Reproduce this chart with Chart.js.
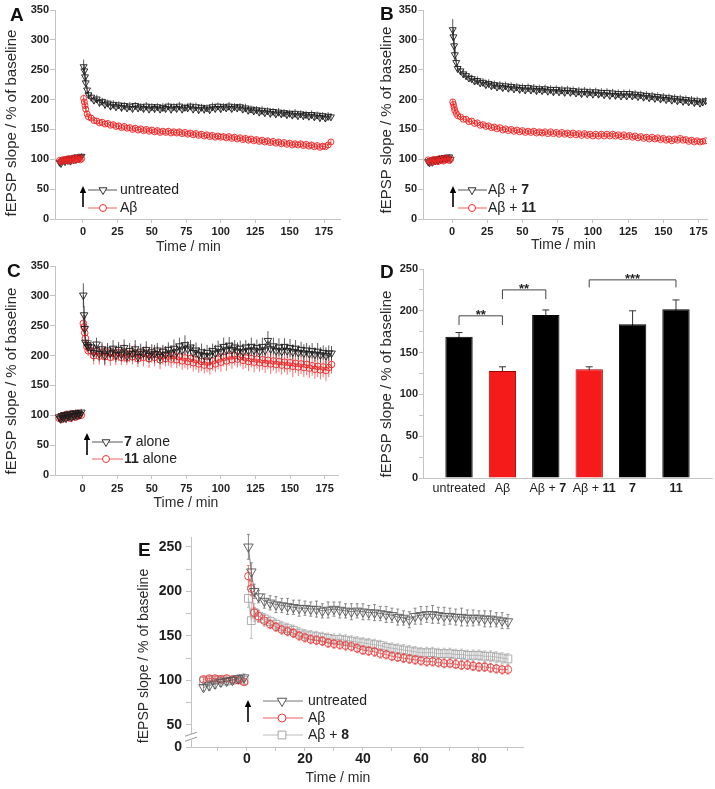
<!DOCTYPE html>
<html><head><meta charset="utf-8">
<script src="https://cdn.jsdelivr.net/npm/chart.js@4.4.1/dist/chart.umd.min.js"></script>
<style>
html,body{margin:0;padding:0;background:#fff;}
#wrap{position:relative;width:715px;height:789px;overflow:hidden;background:#fff;}
canvas{position:absolute;}
</style></head><body>
<div id="wrap">
<canvas id="cA" width="355" height="262" style="left:0px;top:0px"></canvas>
<canvas id="cB" width="360" height="262" style="left:355px;top:0px"></canvas>
<canvas id="cC" width="355" height="260" style="left:0px;top:255px"></canvas>
<canvas id="cD" width="360" height="245" style="left:355px;top:255px"></canvas>
<canvas id="cE" width="405" height="269" style="left:125px;top:520px"></canvas>
</div>
<script>
// ---------------- DATA ----------------
const timeAC = [-17,-16,-15,-14,-13,-12,-11,-10,-9,-8,-7,-6,-5,-4,-3,-2,-1,
 0.5,1,1.5,2,3,4,
 6,8,10,12,14,16,18,20,22,24,
 26,28,30,32,34,36,38,40,42,44,
 46,48,50,52,54,56,58,60,62,64,
 66,68,70,72,74,76,78,80,82,84,
 86,88,90,92,94,96,98,100,102,104,
 106,108,110,112,114,116,118,120,122,124,
 126,128,130,132,134,136,138,140,142,144,
 146,148,150,152,154,156,158,160,162,164,
 166,168,170,172,174,176,178,180];
const xTicksAC = [0,25,50,75,100,125,150,175];
const yTicksAC = [0,50,100,150,200,250,300,350];

// Panel A
const untreatedA = [95,93,97,99,96,100,98,101,97,102,99,103,100,104,101,103,105,
 255,248,238,228,216,208,
 204,199,201,195,197,192,194,189,192,188,
 191,187,190,186,189,185,190,186,188,185,
 189,184,188,185,188,184,187,185,189,184,
 188,185,189,184,187,186,189,184,188,183,
 187,184,186,183,188,185,189,185,188,186,
 189,185,188,186,188,184,186,182,184,181,
 183,179,182,178,181,177,180,176,179,176,
 178,175,177,174,177,173,176,173,175,172,
 175,171,174,170,173,169,172,171];
const untreatedAErr = [5,5,5,5,5,5,5,5,5,5,5,5,5,5,5,5,5,
 12,10,9,8,7,6,
 7,6,7,6,6,7,6,6,7,6,
 6,7,6,6,7,6,6,7,6,6,
 7,6,6,7,6,6,7,6,6,7,
 6,6,7,6,6,7,6,6,7,6,
 6,7,6,6,7,6,6,7,6,6,
 7,6,6,7,6,6,7,6,6,7,
 6,6,7,6,6,7,6,6,7,6,
 6,7,6,6,7,6,6,7,6,6,
 7,6,6,7,6,6,7,6];
const abetaA = [98,96,99,97,100,98,101,97,100,99,102,98,101,100,103,99,101,
 202,196,190,184,176,171,
 169,165,164,161,162,159,160,157,158,155,
 156,153,155,152,153,150,152,149,151,148,
 150,147,149,146,148,145,147,145,147,144,
 146,144,146,143,145,142,144,141,143,140,
 142,139,141,138,140,137,139,137,138,136,
 138,135,137,134,136,133,135,132,134,131,
 133,130,132,129,131,128,130,127,129,126,
 128,125,127,124,126,124,126,123,125,122,
 124,121,123,120,122,121,124,129];
const abetaAErr = [4,4,4,4,4,4,4,4,4,4,4,4,4,4,4,4,4,
 6,5,5,5,5,4,
 5,4,5,4,5,4,5,4,5,4,
 5,4,5,4,5,4,5,4,5,4,
 5,4,5,4,5,4,5,4,5,4,
 5,4,5,4,5,4,5,4,5,4,
 5,4,5,4,5,4,5,4,5,4,
 5,4,5,4,5,4,5,4,5,4,
 5,4,5,4,5,4,5,4,5,4,
 5,4,5,4,5,4,5,4,5,4,
 5,4,5,4,5,4,5,4];

// Panel B
const abeta7B = [96,94,98,95,99,97,100,98,101,99,102,100,103,101,102,104,100,
 317,305,290,275,262,252,
 248,243,240,236,235,231,232,228,229,225,
 227,223,225,221,224,220,223,219,222,218,
 221,217,220,216,220,216,219,215,218,215,
 218,214,217,213,217,213,216,212,216,212,
 215,211,214,210,214,210,213,209,213,209,
 212,208,212,207,211,207,210,206,210,206,
 210,206,209,205,208,204,207,203,206,202,
 205,201,204,200,203,199,202,198,201,197,
 200,196,199,195,198,194,196,198];
const abeta7BErr = [5,5,5,5,5,5,5,5,5,5,5,5,5,5,5,5,5,
 18,15,12,10,8,7,
 7,7,7,6,7,6,7,6,7,6,
 7,6,7,6,7,6,7,6,7,6,
 7,6,7,6,7,6,7,6,7,6,
 7,6,7,6,7,6,7,6,7,6,
 7,6,7,6,7,6,7,6,7,6,
 7,6,7,6,7,6,7,6,7,6,
 7,6,7,6,7,6,7,6,7,6,
 7,6,7,6,7,6,7,6,7,6,
 7,6,7,6,7,6,7,6];
const abeta11B = [99,96,98,95,100,97,99,96,101,98,100,97,102,99,101,98,100,
 196,192,187,182,177,173,
 171,167,167,163,164,160,161,157,158,155,
 156,153,154,151,153,149,151,148,150,147,
 149,146,148,145,147,145,147,144,146,144,
 146,143,146,143,145,142,145,142,144,141,
 144,141,143,140,143,140,142,139,142,139,
 142,139,142,139,142,139,141,138,141,138,
 140,137,139,136,138,135,137,134,137,134,
 136,133,135,132,134,131,134,132,135,132,
 133,130,132,129,131,129,130,131];
const abeta11BErr = [3,3,3,3,3,3,3,3,3,3,3,3,3,3,3,3,3,
 5,4,4,4,4,4,
 4,3,4,3,4,3,4,3,4,3,
 4,3,4,3,4,3,4,3,4,3,
 4,3,4,3,4,3,4,3,4,3,
 4,3,4,3,4,3,4,3,4,3,
 4,3,4,3,4,3,4,3,4,3,
 4,3,4,3,4,3,4,3,4,3,
 4,3,4,3,4,3,4,3,4,3,
 4,3,4,3,4,3,4,3,4,3,
 4,3,4,3,4,3,4,3];

// Panel C
const alone7C = [97,94,99,96,101,95,100,98,103,97,102,99,104,100,103,101,105,
 301,268,245,222,218,215,
 214,205,219,203,211,200,209,204,212,201,
 210,202,213,199,208,203,211,198,207,204,
 210,200,206,203,209,198,207,202,210,204,
 212,206,216,209,218,211,214,205,209,202,
 206,200,205,199,208,204,212,206,215,209,
 217,210,214,207,212,206,214,208,215,209,
 213,207,215,209,225,211,216,208,214,207,
 215,208,213,206,212,205,210,204,209,203,
 208,202,207,201,205,200,204,204];
const alone7CErr = [6,7,6,7,6,7,6,7,6,7,6,7,6,7,6,7,6,
 20,15,10,8,8,8,
 12,14,11,13,12,15,12,11,14,12,
 13,12,14,11,13,12,15,12,13,11,
 14,12,13,15,12,13,11,14,12,13,
 15,13,14,12,16,13,12,14,13,12,
 14,12,13,15,12,14,13,12,15,13,
 14,13,12,15,13,14,12,13,15,12,
 14,13,15,12,16,13,14,12,15,13,
 14,12,15,13,14,12,13,15,12,14,
 13,12,14,13,12,14,13,12];
const alone11C = [95,98,93,99,96,101,97,100,95,102,98,101,97,103,99,102,100,
 254,248,238,229,215,208,
 208,200,207,199,206,198,205,197,204,199,
 205,197,204,196,203,198,204,195,202,197,
 203,195,201,197,202,193,200,195,199,194,
 200,193,198,191,196,190,195,188,193,186,
 190,184,189,183,191,186,194,189,197,191,
 199,193,200,194,198,192,196,190,195,189,
 194,188,193,187,192,186,191,185,190,184,
 189,183,188,182,187,181,186,180,185,179,
 183,177,182,176,181,175,180,185];
const alone11CErr = [6,7,6,7,6,7,6,7,6,7,6,7,6,7,6,7,6,
 15,12,10,9,9,9,
 13,15,12,14,13,15,12,14,13,15,
 14,13,15,12,14,13,15,14,13,15,
 14,16,13,15,14,16,15,13,16,14,
 15,14,16,15,17,14,16,15,17,15,
 16,14,17,15,16,14,17,16,15,17,
 16,15,17,14,16,15,17,16,15,17,
 16,15,17,16,15,17,16,15,17,16,
 17,15,16,18,16,15,17,16,18,16,
 17,16,18,16,17,18,16,15];

// Panel D
const dCategories = ['untreated','Aβ','Aβ + [7]','Aβ + [11]','[7]','[11]'];
const dValues = [169,128,195,130,184,202];
const dErrors = [5,5,6,3,16,11];
const dIsAbeta = [false,true,false,true,false,false];
const dYTicks = [0,25,50,75,100,125,150,175,200,225,250];
const dBrackets = [
  {from:0,to:1,top:194,leg:183,text:'**'},
  {from:1,to:2,top:225,leg:214,text:'**'},
  {from:3,to:5,top:237,leg:228,text:'***'}
];

// Panel E
const timeE = [-15,-13,-11,-9,-7,-5,-3,-1,
 0.5,1.5,2.5,
 4,6,8,10,12,14,16,18,20,22,
 24,26,28,30,32,34,36,38,40,42,
 44,46,48,50,52,54,56,58,60,62,
 64,66,68,70,72,74,76,78,80,82,
 84,86,88,90];
const xTicksE = [-10,0,10,20,30,40,50,60,70,80,90];
const xLabelsE = {0:'0',20:'20',40:'40',60:'60',80:'80'};
const yTicksE = [25,50,75,100,125,150,175,200,225,250];
const yLabelsE = {25:'0',50:'50',100:'100',150:'150',200:'200',250:'250'};
const untreatedE = [92,94,96,98,99,100,102,103,
 250,222,200,
 194,189,187,185,184,183,182,181,181,180,
 180,178,179,180,179,178,177,178,177,176,
 176,175,174,173,171,170,168,172,173,174,
 174,173,172,172,171,171,170,170,170,169,
 169,168,167,166];
const untreatedEErr = [4,5,5,5,4,4,4,4,
 14,10,8,
 7,8,8,9,8,9,8,9,8,8,
 9,8,9,8,9,8,9,8,9,8,
 9,8,9,8,9,8,9,9,10,9,
 10,9,10,9,9,10,9,9,8,9,
 9,8,9,8];
const abetaE = [101,102,102,101,102,101,100,98,
 217,203,176,
 172,167,163,160,157,155,153,150,148,146,
 145,144,142,141,140,139,138,136,134,133,
 132,130,129,127,126,125,124,123,122,121,
 121,120,119,119,118,117,117,116,115,115,
 114,113,112,112];
const abetaEErr = [3,3,3,3,3,3,3,3,
 12,8,6,
 6,6,5,5,5,5,5,5,5,5,
 5,5,5,5,5,5,5,5,5,5,
 5,5,5,5,5,5,5,5,5,5,
 5,5,5,5,5,5,5,5,5,5,
 5,5,5,5];
const abeta8E = [99,100,100,101,99,100,101,100,
 192,167,176,
 172,169,166,163,160,158,156,153,151,150,
 149,148,147,146,146,145,144,143,142,141,
 140,139,137,136,135,134,133,132,131,131,
 131,130,130,130,129,129,128,128,128,127,
 127,126,125,124];
const abeta8EErr = [4,4,4,4,4,4,4,4,
 10,20,10,
 7,6,6,6,6,6,6,6,6,6,
 6,6,6,6,6,6,6,6,6,6,
 6,6,6,6,6,6,6,6,6,6,
 6,6,6,6,6,6,6,6,6,6,
 6,6,6,6];

// ---------------- RENDERING ----------------
const FONT = '"Liberation Sans", Arial, Helvetica, sans-serif';
const AX = '#c4c4c4';
Chart.defaults.font.family = FONT;

function rich(ctx, str, x, y, size, color, align){
  const segs = [];
  str.split(/(\[[^\]]*\])/).forEach(s=>{ if(!s) return; if(s[0]==='[') segs.push({t:s.slice(1,-1),b:true}); else segs.push({t:s,b:false}); });
  let w = 0;
  segs.forEach(s=>{ ctx.font=(s.b?'bold ':'')+size+'px '+FONT; s.w=ctx.measureText(s.t).width; w+=s.w; });
  let cx = align==='center' ? x-w/2 : x;
  ctx.fillStyle=color; ctx.textBaseline='middle'; ctx.textAlign='left';
  segs.forEach(s=>{ ctx.font=(s.b?'bold ':'')+size+'px '+FONT; ctx.fillText(s.t,cx,y); cx+=s.w; });
}

function marker(ctx, mk, x, y, r, color){
  ctx.save(); ctx.strokeStyle=color; ctx.fillStyle='#fff'; ctx.lineWidth=1; ctx.beginPath();
  if(mk==='tri'){ ctx.moveTo(x-r*0.87,y-r*0.5); ctx.lineTo(x+r*0.87,y-r*0.5); ctx.lineTo(x,y+r); ctx.closePath(); }
  else if(mk==='circle'){ ctx.arc(x,y,r,0,Math.PI*2); }
  else { const h=r*0.707; ctx.rect(x-h,y-h,2*h,2*h); }
  ctx.fill(); ctx.stroke(); ctx.restore();
}

const errBars = { id:'errBars', beforeDatasetDraw(chart, args){
  const ds = chart.data.datasets[args.index]; if(!ds.err) return;
  const ctx=chart.ctx, xs=chart.scales.x, ys=chart.scales.y, ca=chart.chartArea;
  ctx.save(); ctx.beginPath(); ctx.rect(ca.left, ca.top-30, ca.right-ca.left, ca.bottom-ca.top+30); ctx.clip();
  ctx.strokeStyle=ds.errColor; ctx.lineWidth=ds.errW||0.8; ctx.beginPath();
  ds.data.forEach((p,i)=>{ const e=ds.err[i]; if(!e) return;
    const x=xs.getPixelForValue(p.x), y1=ys.getPixelForValue(p.y+e), y2=ys.getPixelForValue(p.y-e);
    ctx.moveTo(x,y1); ctx.lineTo(x,y2);
    if(ds.capW){ ctx.moveTo(x-ds.capW,y1); ctx.lineTo(x+ds.capW,y1); ctx.moveTo(x-ds.capW,y2); ctx.lineTo(x+ds.capW,y2); }
  });
  ctx.stroke(); ctx.restore();
}};

const deco = { id:'deco', afterDraw(chart, args, o){
  const ctx=chart.ctx, ox=o.ox, oy=o.oy;
  ctx.save();
  if(o.letter){ ctx.font='bold 19px '+FONT; ctx.fillStyle='#111'; ctx.textAlign='left'; ctx.textBaseline='alphabetic'; ctx.fillText(o.letter[0], o.letter[1]-ox, o.letter[2]-oy); }
  if(o.xTitle){ rich(ctx, o.xTitle[0], o.xTitle[1]-ox, o.xTitle[2]-oy, o.xTitle[3], '#2a2a2a', 'center'); }
  if(o.yTitle){ ctx.save(); ctx.translate(o.yTitle[1]-ox, o.yTitle[2]-oy); ctx.rotate(-Math.PI/2); rich(ctx, o.yTitle[0], 0, 0, o.yTitle[3], '#2a2a2a', 'center'); ctx.restore(); }
  if(o.arrow){ const [x,yb,yt]=o.arrow.map((v,i)=>i===0?v-ox:v-oy);
    ctx.strokeStyle='#000'; ctx.fillStyle='#000'; ctx.lineWidth=1.6;
    ctx.beginPath(); ctx.moveTo(x,yb); ctx.lineTo(x,yt+5); ctx.stroke();
    ctx.beginPath(); ctx.moveTo(x,yt); ctx.lineTo(x-3.2,yt+7); ctx.lineTo(x+3.2,yt+7); ctx.closePath(); ctx.fill(); }
  if(o.legend){ o.legend.forEach(r=>{
    const y=r.y-oy;
    ctx.strokeStyle=r.lc; ctx.lineWidth=1; ctx.beginPath(); ctx.moveTo(r.l0-ox,y); ctx.lineTo(r.l1-ox,y); ctx.stroke();
    marker(ctx, r.mk, r.mx-ox, y, r.r, r.c);
    rich(ctx, r.text, r.tx-ox, y, r.size||14, '#222', 'left');
  }); }
  if(o.brackets){ const xs=chart.scales.x, ys=chart.scales.y;
    o.brackets.forEach(b=>{ const x1=xs.getPixelForValue(b.from), x2=xs.getPixelForValue(b.to), yt=ys.getPixelForValue(b.top), yl=ys.getPixelForValue(b.leg);
      ctx.strokeStyle='#444'; ctx.lineWidth=1; ctx.beginPath(); ctx.moveTo(x1,yl); ctx.lineTo(x1,yt); ctx.lineTo(x2,yt); ctx.lineTo(x2,yl); ctx.stroke();
      ctx.fillStyle='#222'; ctx.font='bold 13px '+FONT; ctx.textAlign='center'; ctx.textBaseline='alphabetic'; ctx.fillText(b.text,(x1+x2)/2,yt+3); });
  }
  if(o.catLabels){ const xs=chart.scales.x;
    o.catLabels.forEach((t,i)=>{ rich(ctx, t, xs.getPixelForValue(i)+(o.catDx[i]||0), o.catY-oy, 12.5, '#1e1e1e', 'center'); });
  }
  if(o.brk){ const ca=chart.chartArea, ys=chart.scales.y; const y=ys.getPixelForValue(o.brk);
    ctx.strokeStyle='#fff'; ctx.lineWidth=4; ctx.beginPath(); ctx.moveTo(ca.left,y-3); ctx.lineTo(ca.left,y+3); ctx.stroke();
    ctx.strokeStyle='#999'; ctx.lineWidth=1; ctx.beginPath();
    ctx.moveTo(ca.left-6,y-1); ctx.lineTo(ca.left+6,y-5); ctx.moveTo(ca.left-6,y+4); ctx.lineTo(ca.left+6,y); ctx.stroke();
  }
  ctx.restore();
}};

function axis(min,max,ticks,labelFn,size,tl,pad,fitKey,fitVal){
  return { type:'linear', min, max,
    afterBuildTicks:s=>{ s.ticks = ticks.map(v=>({value:v})); },
    afterFit:s=>{ s[fitKey]=fitVal; },
    ticks:{ autoSkip:false, maxRotation:0, padding:pad, color:'#1e1e1e', font:{family:FONT,size,weight:'bold'}, callback:labelFn },
    grid:{ drawOnChartArea:false, drawTicks:true, tickLength:tl, color:AX, tickColor:AX },
    border:{ display:true, color:AX, width:1 } };
}

// line is broken across the stimulation (between last baseline point and first post-stimulus point)
const gapSeg = { borderColor: c => (c.p0.parsed.x < 0 && c.p1.parsed.x > 0) ? 'rgba(0,0,0,0)' : undefined };

function series(t, v, e, st){
  return { data:t.map((x,i)=>({x, y:v[i]})), err:e, errColor:st.ec, capW:st.cap||0, errW:st.ew||0.8,
    borderColor:st.lc, borderWidth:st.lw||0.8, showLine:true, tension:0, segment:gapSeg,
    pointStyle:st.ps, rotation:st.rot||0, pointRadius:st.r, pointBorderColor:st.c,
    pointBackgroundColor:'rgba(255,255,255,0)', pointBorderWidth:st.bw||0.9 };
}

function timeChart(id, o){
  return new Chart(document.getElementById(id), {
    type:'line', data:{ datasets:o.datasets },
    options:{ responsive:false, animation:false, events:[],
      layout:{ padding:o.pad },
      plugins:{ legend:{display:false}, tooltip:{enabled:false}, deco:o.deco },
      scales:{
        x: axis(o.xmin,o.xmax,o.xt,o.xl||(v=>String(v)),o.tf,o.xtl,o.xpad,'height',o.xh),
        y: axis(o.ymin,o.ymax,o.yt,o.yl||(v=>String(v)),o.tf,o.ytl,o.ypad,'width',o.yw)
      } },
    plugins:[errBars, deco]
  });
}

const BLK = {ps:'triangle', rot:180, r:4, c:'#1c1c1c', lc:'#333', ec:'#333'};
const RED = {ps:'circle', r:3, c:'#ee2222', lc:'#ee3333', ec:'#f04848'};

// A
timeChart('cA', {
  datasets:[ series(timeAC, abetaA, abetaAErr, RED), series(timeAC, untreatedA, untreatedAErr, BLK) ],
  pad:{left:0,top:10,right:15,bottom:0}, yw:55, xh:43,
  xmin:-20.3, xmax:186.6, xt:xTicksAC, ymin:0, ymax:350, yt:yTicksAC,
  tf:11, xtl:4, xpad:2, ytl:5, ypad:1,
  deco:{ ox:0, oy:0, letter:['A',10,21], xTitle:['Time / min',188.5,247,14], yTitle:['fEPSP slope / % of baseline',12,123,15],
    arrow:[83,207,186],
    legend:[ {y:190,l0:88,l1:117,mx:103,tx:120,mk:'tri',r:4.5,c:'#333',lc:'#555',text:'untreated'},
             {y:208,l0:88,l1:117,mx:103,tx:120,mk:'circle',r:3.5,c:'#ee3333',lc:'#f06060',text:'Aβ'} ] }
});

// B
timeChart('cB', {
  datasets:[ series(timeAC, abeta11B, abeta11BErr, RED), series(timeAC, abeta7B, abeta7BErr, BLK) ],
  pad:{left:0,top:10,right:8,bottom:0}, yw:68, xh:43,
  xmin:-20.6, xmax:181, xt:xTicksAC, ymin:0, ymax:350, yt:yTicksAC,
  tf:11, xtl:4, xpad:2, ytl:5, ypad:1,
  deco:{ ox:355, oy:0, letter:['B',380,20], xTitle:['Time / min',563.5,245,14], yTitle:['fEPSP slope / % of baseline',387,120,15],
    arrow:[453,207,186],
    legend:[ {y:190,l0:458,l1:487,mx:472,tx:488,mk:'tri',r:4.5,c:'#333',lc:'#555',text:'Aβ + [7]'},
             {y:208,l0:458,l1:487,mx:472,tx:488,mk:'circle',r:3.5,c:'#ee3333',lc:'#f06060',text:'Aβ + [11]'} ] }
});

// C
const BLKC = {ps:'triangle', rot:180, r:4.4, c:'#1c1c1c', lc:'#333', ec:'#333'};
const REDC = {ps:'circle', r:3.3, c:'#ee2222', lc:'#ee3333', ec:'#ff4a4a'};
timeChart('cC', {
  datasets:[ series(timeAC, alone7C, alone7CErr, BLKC), series(timeAC, alone11C, alone11CErr, REDC) ],
  pad:{left:0,top:11,right:17,bottom:0}, yw:55, xh:40,
  xmin:-20, xmax:184.7, xt:xTicksAC, ymin:0, ymax:350, yt:yTicksAC,
  tf:11, xtl:4, xpad:3, ytl:5, ypad:1,
  deco:{ ox:0, oy:255, letter:['C',7,277], xTitle:['Time / min',186,503,14], yTitle:['fEPSP slope / % of baseline',12,381,15],
    arrow:[87,455,433],
    legend:[ {y:442,l0:92,l1:123,mx:106,tx:124,mk:'tri',r:4.5,c:'#333',lc:'#555',text:'[7] alone'},
             {y:459,l0:92,l1:123,mx:106,tx:124,mk:'circle',r:3.5,c:'#ee3333',lc:'#f06060',text:'[11] alone'} ] }
});

// D
new Chart(document.getElementById('cD'), {
  type:'bar',
  data:{ datasets:[{
    data: dValues.map((v,i)=>({x:i, y:v})),
    backgroundColor: dIsAbeta.map(a=>a?'#f51b1b':'#000'),
    borderColor: dIsAbeta.map(a=>a?'#a00000':'#000'),
    borderWidth:1, barPercentage:0.63, categoryPercentage:1,
    err: dErrors, errColor:'#333', capW:3.5, errW:1
  }]},
  options:{ responsive:false, animation:false, events:[],
    layout:{ padding:{left:0,top:14,right:3,bottom:0} },
    plugins:{ legend:{display:false}, tooltip:{enabled:false},
      deco:{ ox:355, oy:255, letter:['D',380,278], yTitle:['fEPSP slope / % of baseline',387,384,15],
        brackets:dBrackets, catLabels:dCategories, catDx:[0,0,2,5,0,0], catY:489 } },
    scales:{
      x:{ type:'linear', offset:false, min:-0.83, max:5.83, afterFit:s=>{s.height=22;},
          ticks:{display:false}, grid:{offset:false, drawOnChartArea:false, drawTicks:false, color:AX}, border:{display:true,color:AX} },
      y: axis(0,250,dYTicks,v=>(v%50===0?String(v):''),11,4,1,'width',68)
    } },
  plugins:[errBars, deco]
});

// E
const GRY = {ps:'triangle', rot:180, r:5.5, c:'#555', lc:'#666', ec:'#707070', cap:1.5};
const REDE = {ps:'circle', r:3.8, c:'#e53a3a', lc:'#ec5555', ec:'#ee6060', cap:1.5};
const LGT = {ps:'rect', r:5.5, c:'#a6a6a6', lc:'#b0b0b0', ec:'#b4b4b4', cap:1.5};
timeChart('cE', {
  datasets:[ series(timeE, untreatedE, untreatedEErr, GRY), series(timeE, abetaE, abetaEErr, REDE), series(timeE, abeta8E, abeta8EErr, LGT) ],
  pad:{left:0,top:17,right:7,bottom:0}, yw:66, xh:42,
  xmin:-19.3, xmax:95.2, xt:xTicksE, xl:v=>(xLabelsE[v]||''), ymin:25, ymax:261, yt:yTicksE, yl:v=>(yLabelsE[v]||''),
  tf:14, xtl:4, xpad:0, ytl:5, ypad:4,
  deco:{ ox:125, oy:520, letter:['E',138,556], xTitle:['Time / min',338,778,14], yTitle:['fEPSP slope / % of baseline',144,656,14],
    arrow:[248,722,700], brk:36,
    legend:[ {y:701,l0:263,l1:303,mx:282,tx:308,mk:'tri',r:5.5,c:'#555',lc:'#777',text:'untreated'},
             {y:718,l0:263,l1:303,mx:282,tx:308,mk:'circle',r:4,c:'#e53a3a',lc:'#ec6060',text:'Aβ'},
             {y:735,l0:263,l1:303,mx:282,tx:308,mk:'square',r:5.5,c:'#a6a6a6',lc:'#bbb',text:'Aβ + [8]'} ] }
});
</script>
</body></html>
